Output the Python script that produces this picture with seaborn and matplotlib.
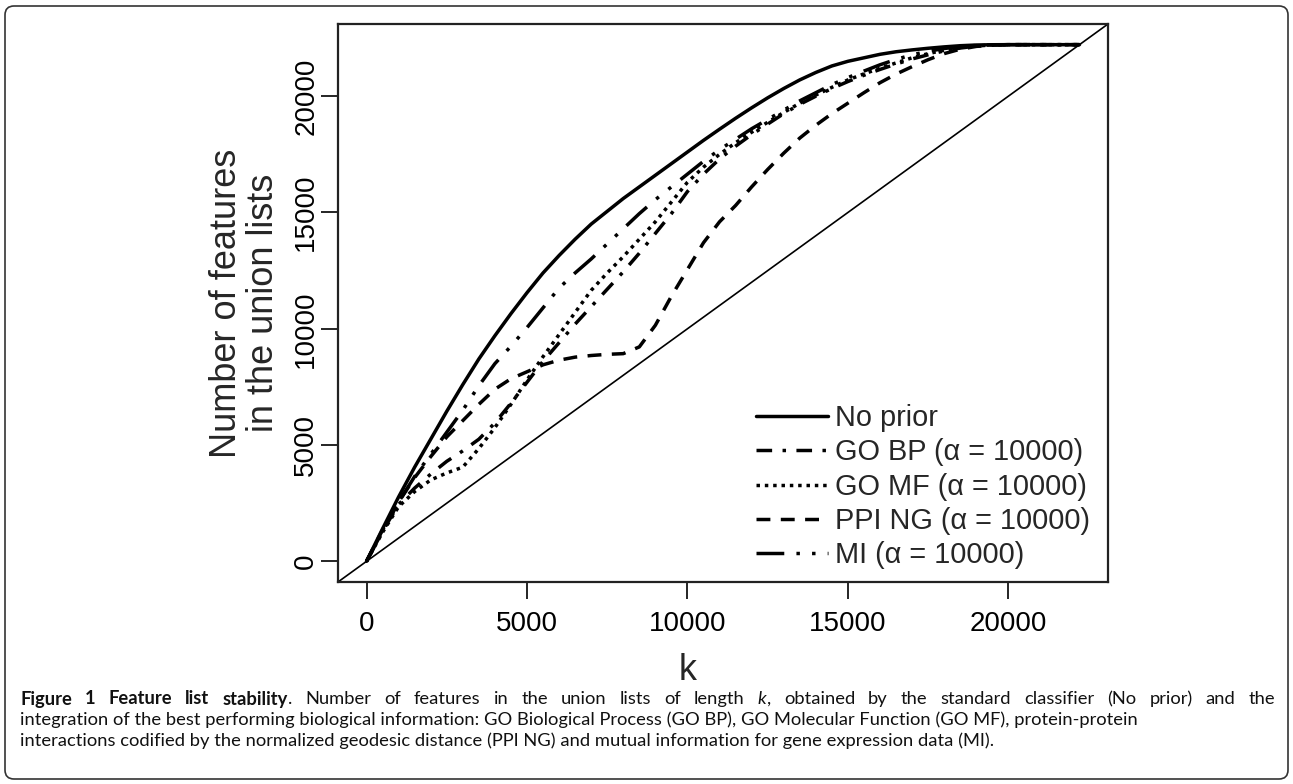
import matplotlib
matplotlib.use("Agg")
import matplotlib.pyplot as plt
from matplotlib.lines import Line2D
from matplotlib.patches import FancyBboxPatch
from matplotlib.transforms import IdentityTransform
import seaborn as sns
import pandas as pd

# ---------------- data ----------------
K = [0, 500, 1000, 1500, 2000, 2500, 3000, 3500, 4000, 4500, 5000, 5500, 6000, 6500,
     7000, 7500, 8000, 8500, 9000, 9500, 10000, 10500, 11000, 11500, 12000, 12500,
     13000, 13500, 14000, 14500, 15000, 15500, 16000, 16500, 17000, 17500, 18000,
     18500, 19000, 19500, 20000, 21000, 22215]

no_prior = [0, 1400, 2770, 4050, 5250, 6450, 7600, 8700, 9700, 10650, 11550, 12400, 13150,
            13850, 14500, 15050, 15600, 16100, 16600, 17100, 17600, 18100, 18580, 19050,
            19500, 19930, 20330, 20700, 21020, 21300, 21500, 21650, 21800, 21910, 21990,
            22060, 22120, 22170, 22200, 22212, 22215, 22215, 22215]

go_bp = [0, 1300, 2450, 3150, 3750, 4300, 4750, 5250, 5950, 6800, 7700, 8600, 9400, 10200,
         10950, 11700, 12450, 13250, 14100, 14950, 15900, 16650, 17300, 17850, 18350, 18800,
         19250, 19650, 20000, 20330, 20630, 20900, 21150, 21380, 21600, 21780, 21950, 22070,
         22150, 22200, 22215, 22215, 22215]

go_mf = [0, 1250, 2350, 3000, 3500, 3800, 4050, 4850, 5750, 6750, 7800, 8800, 9750, 10700,
         11650, 12400, 13100, 13850, 14600, 15450, 16300, 16950, 17500, 18000, 18450, 18880,
         19300, 19700, 20050, 20380, 20700, 20960, 21200, 21430, 21650, 21830, 21980, 22090,
         22160, 22200, 22215, 22215, 22215]

ppi_ng = [0, 1350, 2550, 3600, 4500, 5350, 6050, 6750, 7400, 7850, 8150, 8450, 8650, 8780,
          8850, 8900, 8930, 9220, 10150, 11400, 12550, 13700, 14600, 15300, 16100, 16850,
          17550, 18200, 18750, 19250, 19700, 20150, 20580, 20950, 21270, 21570, 21830, 22020,
          22140, 22200, 22215, 22215, 22215]

mi = [0, 1300, 2550, 3650, 4600, 5550, 6500, 7550, 8500, 9250, 10050, 10900, 11750, 12400,
      13000, 13650, 14300, 14950, 15550, 16100, 16650, 17200, 17700, 18150, 18600, 19000,
      19400, 19800, 20150, 20500, 20800, 21080, 21350, 21580, 21780, 21930, 22050, 22130,
      22180, 22205, 22215, 22215, 22215]

series_names = ["No prior", "GO BP (α = 10000)", "GO MF (α = 10000)",
                "PPI NG (α = 10000)", "MI (α = 10000)"]
series_values = [no_prior, go_bp, go_mf, ppi_ng, mi]
x_ticks = [0, 5000, 10000, 15000, 20000]
y_ticks = [0, 5000, 10000, 15000, 20000]
N_TOTAL = 22215

# ---------------- style ----------------
W, H = 1293, 784
sns.set_theme(style="white")
plt.rcParams["font.family"] = ["Liberation Sans", "DejaVu Sans"]

dash_styles = [
    "-",
    (0, (4.5, 3, 1, 3)),
    (0, (1, 1.4)),
    (0, (4, 3)),
    (0, (8, 3.5, 1, 3.5, 1, 3.5)),
]

fig = plt.figure(figsize=(W / 100, H / 100), dpi=100)
ax = fig.add_axes([338 / W, (H - 582) / H, (1108 - 338) / W, (582 - 24) / H])

frames = []
for name, vals in zip(series_names, series_values):
    frames.append(pd.DataFrame({"k": K, "n": vals, "series": name}))
df = pd.concat(frames, ignore_index=True)

LW = 2.5
for name, ls in zip(series_names, dash_styles):
    sub = df[df["series"] == name]
    sns.lineplot(data=sub, x="k", y="n", ax=ax, color="black", linewidth=LW,
                 linestyle=ls, estimator=None, sort=False, legend=False)

ax.axline((0, 0), slope=1, color="black", lw=1.2)

pad = 0.04 * N_TOTAL
ax.set_xlim(-pad, N_TOTAL + pad)
ax.set_ylim(-pad, N_TOTAL + pad)
ax.set_xticks(x_ticks)
ax.set_yticks(y_ticks)
ax.set_xticklabels([str(v) for v in x_ticks])
ax.set_yticklabels([str(v) for v in y_ticks])
ax.tick_params(axis="both", direction="out", length=12, width=1.2, color="black",
               labelsize=20, labelcolor="black", bottom=True, left=True)
ax.tick_params(axis="x", pad=9)
ax.tick_params(axis="y", pad=1.5)
for lab in ax.get_yticklabels():
    lab.set_rotation(90)
    lab.set_va("center")
for sp in ax.spines.values():
    sp.set_visible(True)
    sp.set_color("#222222")
    sp.set_linewidth(1.6)
ax.set_xlabel("")
ax.set_ylabel("")
ax.grid(False)

fig.text(245 / W, 1 - 303 / H, "Number of features\nin the union lists", rotation=90,
         ha="center", va="center", fontsize=26, linespacing=1.05, multialignment="center")
fig.text(688 / W, 1 - 671 / H, "k", ha="center", va="center", fontsize=26)

handles = [Line2D([0], [0], color="black", lw=LW, linestyle=ls) for ls in dash_styles]
fig.legend(handles, series_names, loc="upper left",
           bbox_to_anchor=(756 / W, 1 - 404 / H), frameon=False, fontsize=20.8,
           handlelength=2.5, handletextpad=0.25, labelspacing=0.22,
           borderpad=0, borderaxespad=0)

# outer rounded border
fig.patches.append(FancyBboxPatch((5, 5), W - 10, H - 11,
                                  boxstyle="round,pad=0,rounding_size=9",
                                  transform=IdentityTransform(), fill=False,
                                  lw=1.2, ec="#333333"))

# caption
renderer = fig.canvas.get_renderer()
CAP_FAMILY = ["Lato", "DejaVu Sans"]

def text_width(s, size, weight="normal", style="normal"):
    t = fig.text(0, 0, s, fontsize=size, family=CAP_FAMILY, weight=weight, style=style)
    w = t.get_window_extent(renderer).width
    t.remove()
    return w

B, N_, I = "bold", "normal", "italic"
line1_words = [[("Figure", B, N_)], [("1", B, N_)], [("Feature", B, N_)], [("list", B, N_)],
               [("stability", B, N_), (".", N_, N_)]]
for w in ("Number of features in the union lists of length").split():
    line1_words.append([(w, N_, N_)])
line1_words.append([("k", N_, I), (",", N_, N_)])
for w in ("obtained by the standard classifier (No prior) and the").split():
    line1_words.append([(w, N_, N_)])

line2 = ("integration of the best performing biological information: GO Biological Process "
         "(GO BP), GO Molecular Function (GO MF), protein-protein")
line3 = ("interactions codified by the normalized geodesic distance (PPI NG) and mutual "
         "information for gene expression data (MI).")

base = 11.0
cap_size = base * (2086 / (text_width(line2, base) + text_width(line3, base)))

def word_width(word, size):
    return sum(text_width(s, size, w, st) for s, w, st in word)

# justified first line
x_left, x_right = 20, 1275
widths = [word_width(wd, cap_size) for wd in line1_words]
gap = (x_right - x_left - sum(widths)) / (len(line1_words) - 1)
x = x_left
y1 = 699
for wd, ww in zip(line1_words, widths):
    xx = x
    for s, w, st in wd:
        fig.text(xx / W, 1 - y1 / H, s, fontsize=cap_size, family=CAP_FAMILY,
                 weight=w, style=st, ha="left", va="center", color="#111111")
        xx += text_width(s, cap_size, w, st)
    x += ww + gap

fig.text(20 / W, 1 - 720 / H, line2, fontsize=cap_size, family=CAP_FAMILY,
         ha="left", va="center", color="#111111")
fig.text(20 / W, 1 - 741 / H, line3, fontsize=cap_size, family=CAP_FAMILY,
         ha="left", va="center", color="#111111")

fig.savefig("out.png", dpi=100)
